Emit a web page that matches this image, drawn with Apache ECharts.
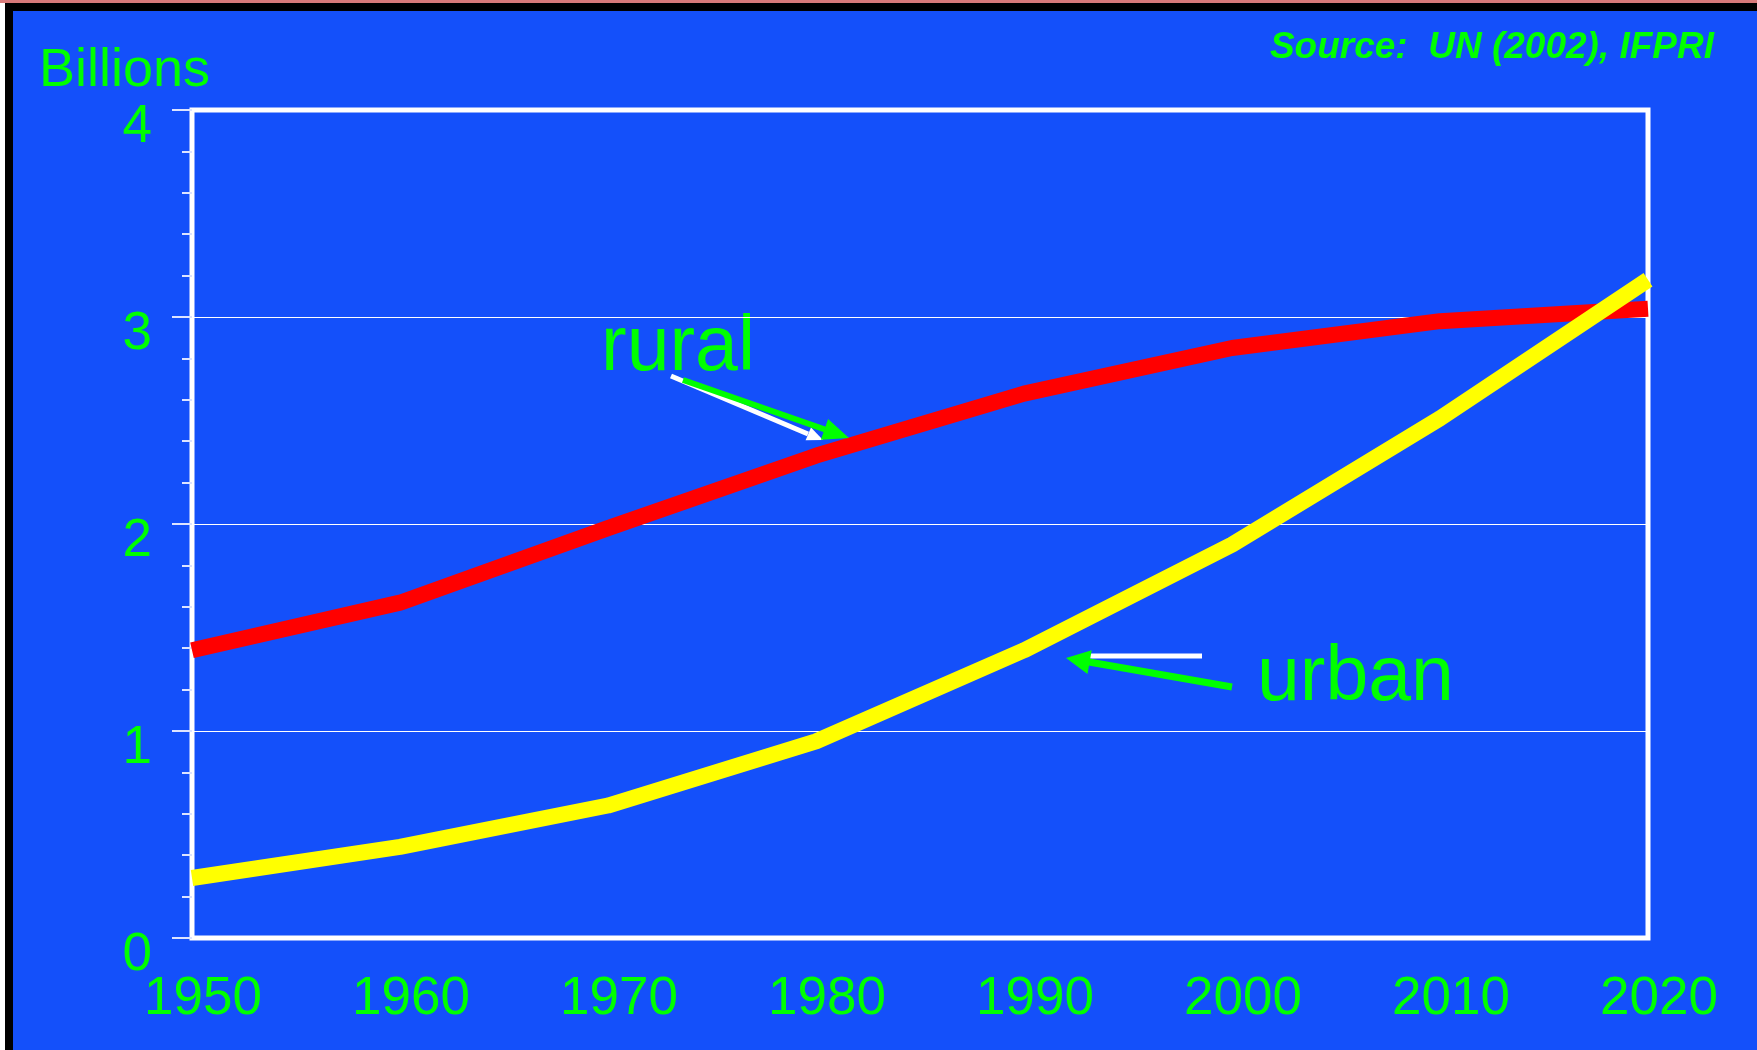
<!DOCTYPE html>
<html>
<head>
<meta charset="utf-8">
<title>Rural and urban population</title>
<script src="https://cdn.jsdelivr.net/npm/echarts@6/dist/echarts.min.js"></script>
<style>
    * { margin: 0; padding: 0; }
    html, body { width: 1757px; height: 1050px; background: #fff; overflow: hidden; }
    #chart { width: 1757px; height: 1050px; }
</style>
</head>
<body>
<div id="chart"></div>
<script>
    // data (billions)
    var years = ['1950', '1960', '1970', '1980', '1990', '2000', '2010', '2020'];
    var rural = [1.39, 1.62, 1.98, 2.33, 2.63, 2.85, 2.98, 3.04];
    var urban = [0.29, 0.44, 0.64, 0.95, 1.39, 1.90, 2.51, 3.18];
    var yTicks = [0, 1, 2, 3, 4];

    var green = '#00ff00';
    var font = '"Liberation Sans", Arial, sans-serif';

    var chart = echarts.init(document.getElementById('chart'));
    chart.setOption({
        backgroundColor: '#1450fa',
        animation: false,
        grid: {
            left: 192,
            top: 110,
            right: 109,
            bottom: 112,
            show: true,
            borderColor: '#ffffff',
            borderWidth: 5,
            backgroundColor: 'transparent'
        },
        xAxis: {
            type: 'category',
            data: years,
            boundaryGap: false,
            axisLine: { show: false },
            axisTick: { show: false },
            axisLabel: {
                color: green,
                fontFamily: font,
                fontSize: 53,
                margin: 35,
                padding: [0, 0, 0, 22],
                interval: 0
            }
        },
        yAxis: {
            type: 'value',
            min: yTicks[0],
            max: yTicks[yTicks.length - 1],
            interval: 1,
            axisLine: { show: false },
            axisTick: {
                show: true,
                length: 20,
                lineStyle: { color: '#dde4ff', width: 2 }
            },
            minorTick: {
                show: true,
                splitNumber: 5,
                length: 10,
                lineStyle: { color: '#dde4ff', width: 2 }
            },
            splitLine: { lineStyle: { color: '#ffffff', width: 1 } },
            axisLabel: {
                color: green,
                fontFamily: font,
                fontSize: 53,
                margin: 40,
                verticalAlign: 'top',
                lineHeight: 34
            }
        },
        series: [
            {
                name: 'rural',
                type: 'line',
                data: rural,
                showSymbol: false,
                lineStyle: { color: '#ff0000', width: 16, cap: 'butt' },
                z: 3
            },
            {
                name: 'urban',
                type: 'line',
                data: urban,
                showSymbol: false,
                lineStyle: { color: '#ffff00', width: 16, cap: 'butt' },
                z: 4
            }
        ],
        graphic: [
            // slide frame bits
            { type: 'rect', shape: { x: 0, y: 0, width: 1757, height: 3 }, style: { fill: '#d97a7a' } },
            { type: 'rect', shape: { x: 0, y: 3, width: 1757, height: 8 }, style: { fill: '#000' } },
            { type: 'rect', shape: { x: 0, y: 3, width: 5, height: 1047 }, style: { fill: '#fff' } },
            { type: 'rect', shape: { x: 5, y: 3, width: 8, height: 1047 }, style: { fill: '#000' } },
            // texts
            {
                type: 'text', left: 39, top: 44,
                style: { text: 'Billions', fill: green, font: '54px ' + font }
            },
            {
                type: 'text', right: 1757 - 1714, top: 29,
                style: { text: 'Source:  UN (2002), IFPRI', fill: green, font: 'italic bold 37px ' + font }
            },
            {
                type: 'text', left: 601, top: 310,
                style: { text: 'rural', fill: green, font: '77px ' + font }
            },
            {
                type: 'text', left: 1257, top: 640,
                style: { text: 'urban', fill: green, font: '77px ' + font }
            },
            // rural arrows
            { type: 'polyline', shape: { points: [[671, 376], [808, 434]] }, style: { stroke: '#fff', lineWidth: 5 }, z: 10 },
            { type: 'polygon', shape: { points: [[823, 440], [805.6, 440.2], [811, 427.4]] }, style: { fill: '#fff' }, z: 10 },
            { type: 'polyline', shape: { points: [[683, 380], [825, 429.5]] }, style: { stroke: green, lineWidth: 6 }, z: 11 },
            { type: 'polygon', shape: { points: [[849, 438], [820.9, 439.8], [828.1, 419]] }, style: { fill: green }, z: 11 },
            // urban arrows
            { type: 'polyline', shape: { points: [[1090, 656], [1202, 656]] }, style: { stroke: '#fff', lineWidth: 5 }, z: 10 },
            { type: 'polyline', shape: { points: [[1232, 687], [1089, 662]] }, style: { stroke: green, lineWidth: 7 }, z: 11 },
            { type: 'polygon', shape: { points: [[1066, 658], [1091.7, 650.3], [1087.5, 673.9]] }, style: { fill: green }, z: 11 }
        ]
    });
</script>
</body>
</html>
